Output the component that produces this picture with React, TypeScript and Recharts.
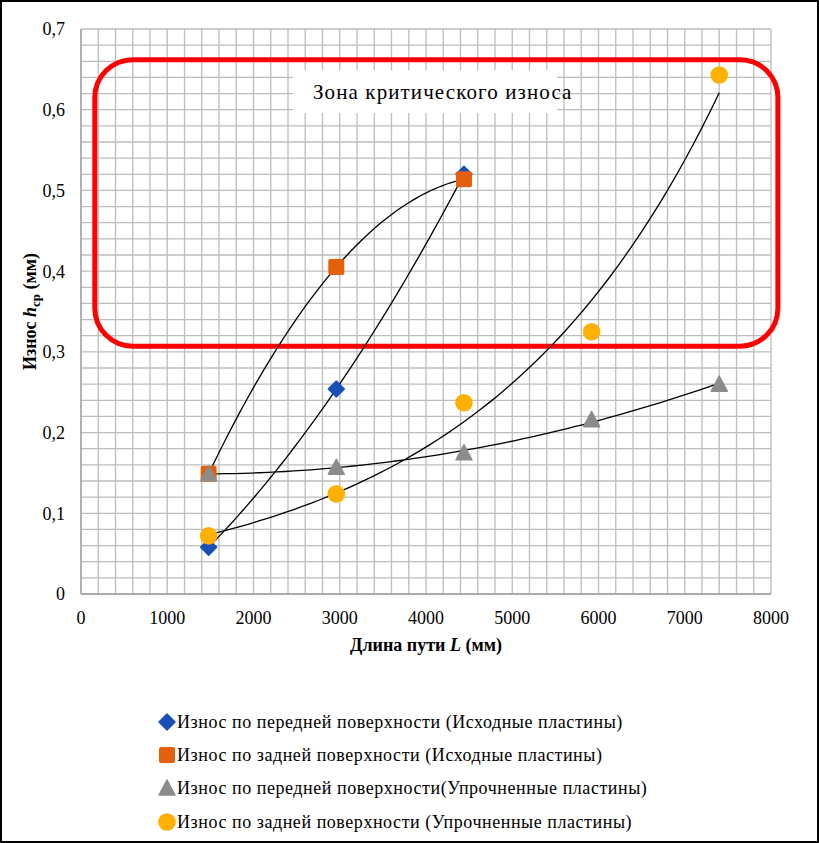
import React from 'react';
import {
  ComposedChart,
  XAxis,
  YAxis,
  CartesianGrid,
  Scatter,
  Line,
  ReferenceArea,
  Label,
} from 'recharts';

// ---------- data ----------
const xValues = [1480, 2960, 4440, 5920, 7400];
const frontInitialY = [0.058, 0.254, 0.52];
const backInitialY = [0.149, 0.405, 0.514];
const frontHardenedY = [0.149, 0.157, 0.175, 0.216, 0.26];
const backHardenedY = [0.072, 0.124, 0.237, 0.325, 0.643];

const seriesNames = [
  'Износ по передней поверхности (Исходные пластины)',
  'Износ по задней поверхности (Исходные пластины)',
  'Износ по передней поверхности(Упрочненные пластины)',
  'Износ по задней поверхности (Упрочненные пластины)',
];
const seriesColors = ['#1A4FB6', '#E5600B', '#8C8C8C', '#FFB000'];

const xTicks = [0, 1000, 2000, 3000, 4000, 5000, 6000, 7000, 8000];
const yTicks = [0, 0.1, 0.2, 0.3, 0.4, 0.5, 0.6, 0.7];

const zoneLabel = 'Зона критического износа';
const zoneX = [160, 8080];
const zoneY = [0.307, 0.662];
const zoneLabelX = [2458, 5519];
const zoneLabelY = [0.596, 0.649];

// ---------- helpers ----------
const toPoints = (ys: number[]) => ys.map((y, i) => ({ x: xValues[i], y }));

// least-squares quadratic trendline (as Excel "polynomial, order 2")
function polyFit2(pts: { x: number; y: number }[]) {
  const s = 1000;
  let n = 0, sx = 0, sx2 = 0, sx3 = 0, sx4 = 0, sy = 0, sxy = 0, sx2y = 0;
  pts.forEach((p) => {
    const x = p.x / s;
    n += 1; sx += x; sx2 += x * x; sx3 += x ** 3; sx4 += x ** 4;
    sy += p.y; sxy += x * p.y; sx2y += x * x * p.y;
  });
  const A = [
    [n, sx, sx2, sy],
    [sx, sx2, sx3, sxy],
    [sx2, sx3, sx4, sx2y],
  ];
  for (let i = 0; i < 3; i++) {
    let piv = i;
    for (let r = i + 1; r < 3; r++) if (Math.abs(A[r][i]) > Math.abs(A[piv][i])) piv = r;
    [A[i], A[piv]] = [A[piv], A[i]];
    for (let r = 0; r < 3; r++) {
      if (r === i) continue;
      const f = A[r][i] / A[i][i];
      for (let c = i; c < 4; c++) A[r][c] -= f * A[i][c];
    }
  }
  const c0 = A[0][3] / A[0][0];
  const c1 = A[1][3] / A[1][1];
  const c2 = A[2][3] / A[2][2];
  return (x: number) => c0 + c1 * (x / s) + c2 * (x / s) ** 2;
}

// least-squares exponential trendline (as Excel "exponential")
function expFit(pts: { x: number; y: number }[]) {
  const n = pts.length;
  const mx = pts.reduce((a, p) => a + p.x, 0) / n;
  const ml = pts.reduce((a, p) => a + Math.log(p.y), 0) / n;
  let sxy = 0, sxx = 0;
  pts.forEach((p) => {
    sxy += (p.x - mx) * (Math.log(p.y) - ml);
    sxx += (p.x - mx) ** 2;
  });
  const b = sxy / sxx;
  const a = ml - b * mx;
  return (x: number) => Math.exp(a + b * x);
}

function sampleTrend(pts: { x: number; y: number }[], f: (x: number) => number) {
  const x0 = pts[0].x;
  const x1 = pts[pts.length - 1].x;
  const steps = 60;
  const out: { x: number; y: number }[] = [];
  for (let i = 0; i <= steps; i++) {
    const x = x0 + ((x1 - x0) * i) / steps;
    out.push({ x, y: f(x) });
  }
  return out;
}

const frontInitial = toPoints(frontInitialY);
const backInitial = toPoints(backInitialY);
const frontHardened = toPoints(frontHardenedY);
const backHardened = toPoints(backHardenedY);

const trendFrontInitial = sampleTrend(frontInitial, polyFit2(frontInitial));
const trendBackInitial = sampleTrend(backInitial, polyFit2(backInitial));
const trendFrontHardened = sampleTrend(frontHardened, polyFit2(frontHardened));
const trendBackHardened = sampleTrend(backHardened, expFit(backHardened));

const gridX = Array.from({ length: 41 }, (_, i) => i * 200);
const gridY = Array.from({ length: 36 }, (_, i) => Math.round(i * 2) / 100);

// ---------- markers ----------
const FONT = '"Liberation Serif", Tinos, "Noto Serif", FreeSerif, "Times New Roman", Times, "DejaVu Serif", serif';

const DiamondShape = (props: any) => {
  const { cx, cy } = props;
  const r = 8;
  return (
    <polygon
      points={`${cx},${cy - r} ${cx + r},${cy} ${cx},${cy + r} ${cx - r},${cy}`}
      fill={seriesColors[0]}
      stroke={seriesColors[0]}
      strokeWidth={1.5}
      strokeLinejoin="round"
    />
  );
};
const SquareShape = (props: any) => {
  const { cx, cy } = props;
  const h = 8;
  return <rect x={cx - h} y={cy - h} width={2 * h} height={2 * h} rx={2} fill={seriesColors[1]} />;
};
const TriangleShape = (props: any) => {
  const { cx, cy } = props;
  return (
    <polygon
      points={`${cx},${cy - 8} ${cx + 8},${cy + 7} ${cx - 8},${cy + 7}`}
      fill={seriesColors[2]}
      stroke={seriesColors[2]}
      strokeWidth={1.5}
      strokeLinejoin="round"
    />
  );
};
const CircleShape = (props: any) => {
  const { cx, cy } = props;
  return <circle cx={cx} cy={cy} r={8.8} fill={seriesColors[3]} />;
};

const legendShapes = [DiamondShape, SquareShape, TriangleShape, CircleShape];

// ---------- annotation shapes ----------
const ZoneShape = (p: any) => (
  <rect
    x={p.x}
    y={p.y}
    width={p.width}
    height={p.height}
    rx={38}
    ry={38}
    fill="none"
    stroke="#FF0000"
    strokeWidth={5}
  />
);

const ZoneLabelShape = (p: any) => (
  <g>
    <rect x={p.x} y={p.y} width={p.width} height={p.height} fill="#FFFFFF" />
    <text
      x={p.x + 20}
      y={p.y + p.height / 2 + 7}
      style={{ fontFamily: FONT, letterSpacing: 1.1 }}
      fontSize={21}
      fill="#000"
    >
      {zoneLabel}
    </text>
  </g>
);

const YTitle = (props: any) => {
  const vb = props.viewBox;
  const cx = vb.x + 36;
  const cy = vb.y + vb.height / 2;
  return (
    <text
      x={cx}
      y={cy}
      transform={`rotate(-90, ${cx}, ${cy})`}
      textAnchor="middle"
      style={{ fontFamily: FONT }}
      fontSize={18}
      fontWeight="bold"
      fill="#000"
    >
      Износ <tspan fontStyle="italic">h</tspan>
      <tspan fontSize={13} dy={4}>ср</tspan>
      <tspan dy={-4}> (мм)</tspan>
    </text>
  );
};

const XTitle = (props: any) => {
  const vb = props.viewBox;
  const cx = vb.x + vb.width / 2;
  const cy = vb.y + 57;
  return (
    <text x={cx} y={cy} textAnchor="middle" style={{ fontFamily: FONT }} fontSize={18} fontWeight="bold" fill="#000">
      Длина пути <tspan fontStyle="italic">L</tspan> (мм)
    </text>
  );
};

const fmtY = (v: number) => (v === 0 ? '0' : v.toFixed(1).replace('.', ','));

const tickStyle = { fontFamily: FONT, fontSize: 18, fill: '#000' };

export default function App() {
  return (
    <div style={{ position: 'relative', width: 819, height: 843, background: '#fff', overflow: 'hidden', fontFamily: FONT }}>
      <style>{`body{margin:0;}`}</style>
      <div style={{ position: 'absolute', left: 0, top: 0 }}>
        <ComposedChart
          width={819}
          height={843}
          margin={{ top: 29, right: 48, bottom: 209, left: 0 }}
        >
          <CartesianGrid
            stroke="#BDBDBD"
            strokeWidth={1.3}
            horizontalValues={gridY}
            verticalValues={gridX}
            syncWithTicks={false}
          />
          <XAxis
            type="number"
            dataKey="x"
            domain={[0, 8000]}
            ticks={xTicks}
            height={40}
            tickLine={false}
            tickSize={0}
            tickMargin={17}
            axisLine={{ stroke: '#A0A0A0', strokeWidth: 1.3 }}
            tick={tickStyle}
            interval={0}
          >
            <Label content={XTitle} />
          </XAxis>
          <YAxis
            type="number"
            dataKey="y"
            domain={[0, 0.7]}
            ticks={yTicks}
            width={81}
            tickLine={false}
            tickSize={0}
            tickMargin={16}
            axisLine={{ stroke: '#A0A0A0', strokeWidth: 1.3 }}
            tick={tickStyle}
            tickFormatter={fmtY}
            interval={0}
          >
            <Label content={YTitle} />
          </YAxis>

          <ReferenceArea
            x1={zoneLabelX[0]}
            x2={zoneLabelX[1]}
            y1={zoneLabelY[0]}
            y2={zoneLabelY[1]}
            shape={ZoneLabelShape}
            ifOverflow="visible"
          />

          <Scatter name={seriesNames[0]} data={frontInitial} dataKey="y" shape={DiamondShape} isAnimationActive={false} />
          <Scatter name={seriesNames[1]} data={backInitial} dataKey="y" shape={SquareShape} isAnimationActive={false} />
          <Scatter name={seriesNames[2]} data={frontHardened} dataKey="y" shape={TriangleShape} isAnimationActive={false} />
          <Scatter name={seriesNames[3]} data={backHardened} dataKey="y" shape={CircleShape} isAnimationActive={false} />

          <Line data={trendFrontInitial} dataKey="y" type="linear" stroke="#000" strokeWidth={1.3} dot={false} activeDot={false} isAnimationActive={false} legendType="none" />
          <Line data={trendBackInitial} dataKey="y" type="linear" stroke="#000" strokeWidth={1.3} dot={false} activeDot={false} isAnimationActive={false} legendType="none" />
          <Line data={trendFrontHardened} dataKey="y" type="linear" stroke="#000" strokeWidth={1.3} dot={false} activeDot={false} isAnimationActive={false} legendType="none" />
          <Line data={trendBackHardened} dataKey="y" type="linear" stroke="#000" strokeWidth={1.3} dot={false} activeDot={false} isAnimationActive={false} legendType="none" />

          <ReferenceArea
            x1={zoneX[0]}
            x2={zoneX[1]}
            y1={zoneY[0]}
            y2={zoneY[1]}
            shape={ZoneShape}
            ifOverflow="visible"
          />
        </ComposedChart>
      </div>

      {/* legend */}
      <div style={{ position: 'absolute', left: 157, top: 705 }}>
        {seriesNames.map((name, i) => {
          const Shape = legendShapes[i];
          return (
            <div key={name} style={{ display: 'flex', alignItems: 'center', height: 33.3 }}>
              <svg width={20} height={20} style={{ display: 'block' }}>
                <Shape cx={10} cy={10} />
              </svg>
              <span
                style={{
                  fontFamily: FONT,
                  fontSize: 18,
                  letterSpacing: 0.55,
                  color: '#000',
                  whiteSpace: 'nowrap',
                  lineHeight: '20px',
                }}
              >
                {name}
              </span>
            </div>
          );
        })}
      </div>

      <div
        style={{
          position: 'absolute',
          inset: 0,
          border: '2px solid #000',
          boxSizing: 'border-box',
          pointerEvents: 'none',
        }}
      />
    </div>
  );
}
